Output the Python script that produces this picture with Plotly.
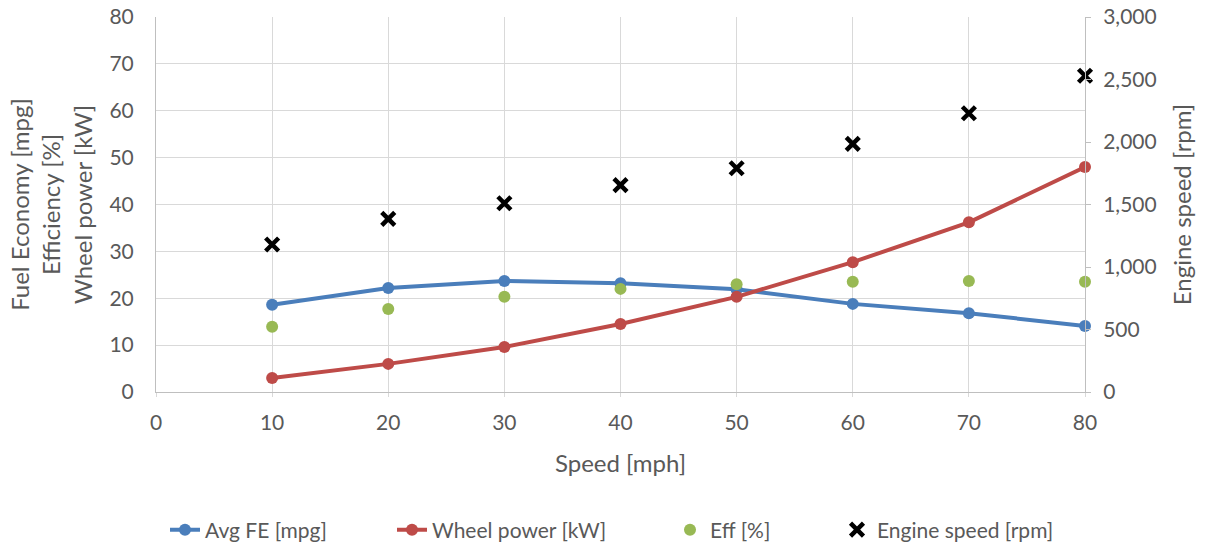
import plotly.graph_objects as go

# Road-load sweep: vehicle speed vs. fuel economy, wheel power, efficiency and engine speed
speed_mph = [10, 20, 30, 40, 50, 60, 70, 80]
avg_fe_mpg = [18.6, 22.2, 23.7, 23.2, 21.9, 18.8, 16.8, 14.1]
wheel_power_kw = [3.0, 6.0, 9.6, 14.5, 20.3, 27.7, 36.2, 48.0]
eff_pct = [13.9, 17.7, 20.3, 22.0, 23.0, 23.5, 23.7, 23.5]
engine_speed_rpm = [1180, 1385, 1510, 1655, 1790, 1985, 2230, 2530]

x_ticks = [0, 10, 20, 30, 40, 50, 60, 70, 80]
left_ticks = [0, 10, 20, 30, 40, 50, 60, 70, 80]
right_ticks = [0, 500, 1000, 1500, 2000, 2500, 3000]

FONT = "Lato"
TXT = "#595959"
GRID = "#d9d9d9"
AXIS = "#bfbfbf"
W, H = 1208, 548

fig = go.Figure()

fig.add_trace(go.Scatter(
    x=speed_mph, y=avg_fe_mpg, name="Avg FE [mpg]", mode="lines+markers",
    line=dict(color="#4a7ebb", width=4), marker=dict(size=12, color="#4a7ebb"),
    cliponaxis=False, legend="legend",
))
fig.add_trace(go.Scatter(
    x=speed_mph, y=wheel_power_kw, name="Wheel power [kW]", mode="lines+markers",
    line=dict(color="#be4b48", width=4), marker=dict(size=12, color="#be4b48"),
    cliponaxis=False, legend="legend2",
))
fig.add_trace(go.Scatter(
    x=speed_mph, y=eff_pct, name="Eff [%]", mode="markers",
    marker=dict(size=12, color="#98b954"),
    cliponaxis=False, legend="legend3",
))
fig.add_trace(go.Scatter(
    x=speed_mph, y=engine_speed_rpm, name="Engine speed [rpm]", mode="markers",
    yaxis="y2",
    marker=dict(symbol="x-thin", size=13, color="black",
                line=dict(width=4.5, color="black")),
    cliponaxis=False, legend="legend4",
))


def legend_at(px_left):
    # one legend box per series so the entries sit at fixed horizontal spots
    return dict(
        x=px_left / W, xref="container", xanchor="left",
        y=1 - 530 / H, yref="container", yanchor="middle",
        orientation="h", bgcolor="rgba(0,0,0,0)",
        font=dict(size=21, color=TXT, family=FONT),
    )


fig.update_layout(
    width=W, height=H,
    margin=dict(l=156, r=123, t=17, b=156, autoexpand=False),
    paper_bgcolor="white", plot_bgcolor="white",
    font=dict(family=FONT, size=21, color=TXT),
    showlegend=True,
    legend=legend_at(165),
    legend2=legend_at(392),
    legend3=legend_at(670),
    legend4=legend_at(837),
    xaxis=dict(
        range=[0, 80], tickvals=x_ticks, ticktext=[str(v) for v in x_ticks],
        showgrid=True, gridcolor=GRID, gridwidth=1,
        showline=True, linecolor=AXIS, linewidth=1,
        ticks="outside", ticklen=4, tickcolor=GRID,
        zeroline=False, automargin=False, ticklabelstandoff=8,
        title=dict(text="Speed [mph]", font=dict(size=24, color=TXT), standoff=21),
    ),
    yaxis=dict(
        range=[0, 80], tickvals=left_ticks, ticktext=[str(v) for v in left_ticks],
        showgrid=True, gridcolor=GRID, gridwidth=1,
        showline=True, linecolor=AXIS, linewidth=1,
        zeroline=False, ticks="", ticklabelstandoff=17, automargin=False,
        title=dict(text="Fuel Economy [mpg]<br>Efficiency [%]<br>Wheel power [kW]",
                   font=dict(size=24, color=TXT), standoff=10),
    ),
    yaxis2=dict(
        range=[0, 3000], tickvals=right_ticks,
        ticktext=[f"{v:,}" for v in right_ticks],
        overlaying="y", side="right", showgrid=False,
        showline=True, linecolor=AXIS, linewidth=1,
        ticks="outside", ticklen=5, tickcolor=AXIS,
        zeroline=False, automargin=False, ticklabelstandoff=8,
        title=dict(text="Engine speed [rpm]", font=dict(size=24, color=TXT), standoff=18),
    ),
)

fig.write_html("out.html")
